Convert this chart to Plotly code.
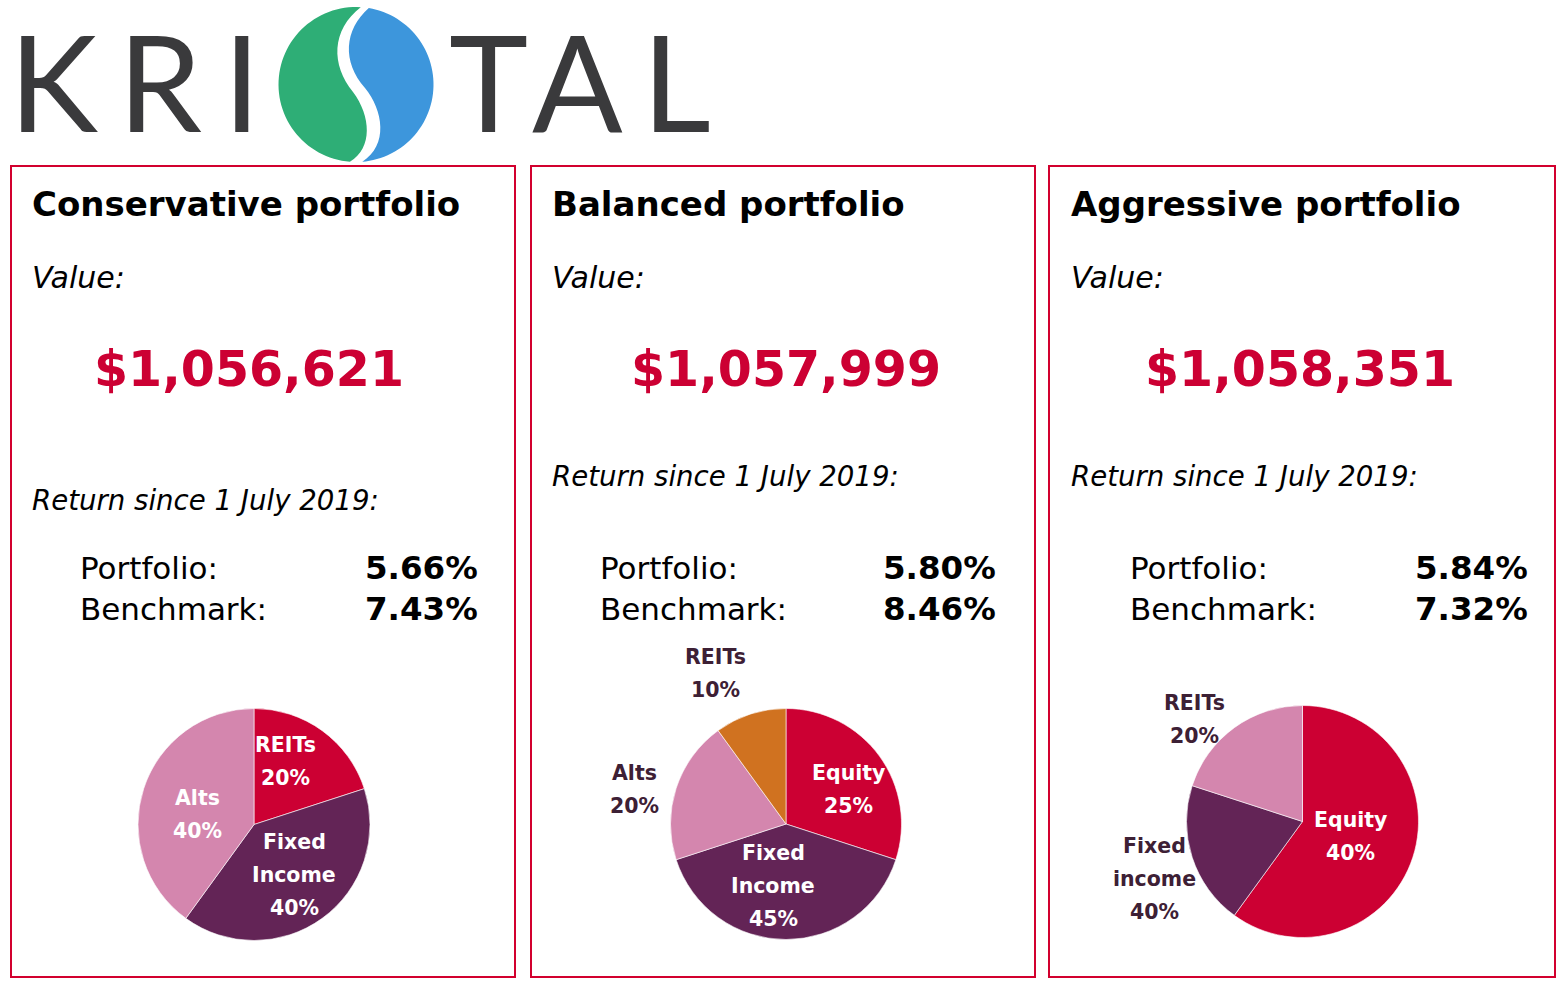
import numpy as np
import plotly.graph_objects as go

W, H = 1568, 991

# ---------------- data ----------------
portfolio_names = ["Conservative portfolio", "Balanced portfolio", "Aggressive portfolio"]
portfolio_values = [1056621, 1057999, 1058351]
portfolio_returns = [5.66, 5.80, 5.84]
benchmark_returns = [7.43, 8.46, 7.32]
value_label = "Value:"
since_label = "Return since 1 July 2019:"
row_labels = ["Portfolio:", "Benchmark:"]

cons_assets = ["REITs", "Fixed Income", "Alts"]
cons_slices = [20, 40, 40]          # slice sizes as drawn
cons_pct_text = [20, 40, 40]        # percentages printed on the chart

bal_assets = ["Equity", "Fixed Income", "Alts", "REITs"]
bal_slices = [30, 40, 20, 10]
bal_pct_text = [25, 45, 20, 10]

agg_assets = ["Equity", "Fixed income", "REITs"]
agg_slices = [60, 20, 20]
agg_pct_text = [40, 40, 20]

logo_left = "KRI"
logo_right = "TAL"

# ---------------- style ----------------
FONT = "DejaVu Sans"
RED = "#cc0033"
BORDER = "#d2002e"
PURPLE = "#632456"
PINK = "#d486ae"
ORANGE = "#d07220"
DARK_LBL = "#3d2035"
GREEN = "#2eae76"
BLUE = "#3d96dc"
LOGO_GREY = "#3a3a3c"

fig = go.Figure()


def px_x(x):
    return x / W


def px_y(y):
    return 1 - y / H


def text(x, y, s, size, color="black", weight="normal", style="normal",
         xanchor="left", family=FONT):
    fig.add_annotation(x=px_x(x), y=px_y(y), xref="paper", yref="paper",
                       text=s, showarrow=False, xanchor=xanchor, yanchor="middle",
                       font=dict(family=family, size=size, color=color,
                                 weight=weight, style=style))


# ---------------- logo ----------------
logo_letter_x = [53, 160, 242, 488, 577, 676]
for ch, lx in zip(logo_left + logo_right, logo_letter_x):
    text(lx, 81, ch, 134, color=LOGO_GREY, xanchor="center", family="Lato")

cx, cy, r = 356, 84.5, 77.5


def pt(x, y):
    return f"{px_x(x):.6f},{px_y(y):.6f}"


def arc(t0, t1, n=60):
    ts = np.radians(np.linspace(t0, t1, n))
    return " ".join("L " + pt(cx + r * np.cos(t), cy + r * np.sin(t)) for t in ts)


green_path = ("M " + pt(361, 7) + " " + arc(-86.3, -265.5) +
              " C " + pt(373, 148) + " " + pt(371, 116) + " " + pt(353, 92) +
              " C " + pt(331, 65) + " " + pt(331, 30) + " " + pt(361, 7) + " Z")
blue_path = ("M " + pt(362, 162) + " " + arc(85.6, -80.5) +
             " C " + pt(344, 30) + " " + pt(342, 62) + " " + pt(365, 88) +
             " C " + pt(383, 110) + " " + pt(389, 145) + " " + pt(362, 162) + " Z")
fig.add_shape(type="path", path=green_path, xref="paper", yref="paper",
              fillcolor=GREEN, line=dict(width=0))
fig.add_shape(type="path", path=blue_path, xref="paper", yref="paper",
              fillcolor=BLUE, line=dict(width=0))

# ---------------- panels ----------------
box_x = [(11, 515), (531, 1035), (1049, 1555)]
title_x = [30, 550, 1069]
value_cx = [249, 786, 1300]
since_y = [500, 476, 476]
row_left = [78, 598, 1128]
row_right = [480, 998, 1530]

for i in range(3):
    x0, x1 = box_x[i]
    fig.add_shape(type="rect", xref="paper", yref="paper",
                  x0=px_x(x0), x1=px_x(x1), y0=px_y(977), y1=px_y(166),
                  line=dict(color=BORDER, width=2), fillcolor="rgba(0,0,0,0)")
    text(title_x[i], 204, portfolio_names[i], 34, weight="bold")
    text(title_x[i], 277, value_label, 30, style="italic")
    text(value_cx[i], 370, f"${portfolio_values[i]:,}", 49, color=RED,
         weight="bold", xanchor="center")
    text(title_x[i], since_y[i], since_label, 27.6, style="italic")
    for j, (lab, val) in enumerate(zip(row_labels,
                                       [portfolio_returns[i], benchmark_returns[i]])):
        yy = 568 + 41 * j
        text(row_left[i], yy, lab, 31)
        text(row_right[i], yy, f"{val:.2f}%", 32.5, weight="bold", xanchor="right")

# ---------------- pies ----------------
pies = [
    dict(assets=cons_assets, slices=cons_slices, pct=cons_pct_text,
         colors=[RED, PURPLE, PINK], c=(254, 824.5), r=116,
         lbl=[(285, 745, "white"), (294, 842, "white"), (197, 798, "white")]),
    dict(assets=bal_assets, slices=bal_slices, pct=bal_pct_text,
         colors=[RED, PURPLE, PINK, ORANGE], c=(786, 824), r=115.5,
         lbl=[(848, 773, "white"), (773, 853, "white"), (634, 773, DARK_LBL),
              (715, 657, DARK_LBL)]),
    dict(assets=agg_assets, slices=agg_slices, pct=agg_pct_text,
         colors=[RED, PURPLE, PINK], c=(1302.5, 821.5), r=116,
         lbl=[(1350, 820, "white"), (1154, 846, DARK_LBL), (1194, 703, DARK_LBL)]),
]

for p in pies:
    pcx, pcy = p["c"]
    pr = p["r"]
    fig.add_trace(go.Pie(
        labels=p["assets"], values=p["slices"], sort=False, direction="clockwise",
        rotation=0, marker=dict(colors=p["colors"], line=dict(color="white", width=0.6)),
        textinfo="none", hoverinfo="label+percent", showlegend=False,
        domain=dict(x=[px_x(pcx - pr), px_x(pcx + pr)],
                    y=[px_y(pcy + pr), px_y(pcy - pr)])))
    for name, pct, (lx, ly, col) in zip(p["assets"], p["pct"], p["lbl"]):
        lines = name.split(" ") + [f"{pct}%"]
        for k, ln in enumerate(lines):
            text(lx, ly + 33 * k, ln, 20.5, color=col, weight="bold", xanchor="center")

fig.update_layout(width=W, height=H, margin=dict(l=0, r=0, t=0, b=0),
                  paper_bgcolor="white", plot_bgcolor="white", showlegend=False)

fig.write_html("out.html")
